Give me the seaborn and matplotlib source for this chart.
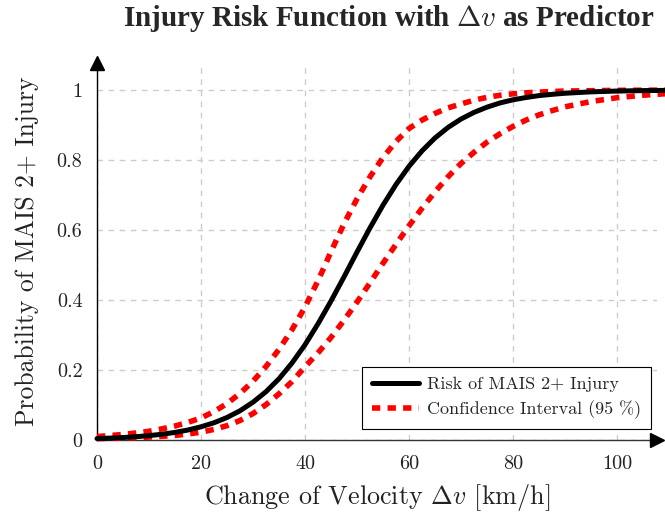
import numpy as np
import pandas as pd
import seaborn as sns
import matplotlib.pyplot as plt
from matplotlib.lines import Line2D
from matplotlib.ticker import FuncFormatter

# ---------------- data ----------------
velocity = [0, 2.5, 5, 7.5, 10, 12.5, 15, 17.5, 20, 22.5, 25, 27.5, 30, 32.5,
            35, 37.5, 40, 42.5, 45, 47.5, 50, 52.5, 55, 57.5, 60, 62.5, 65,
            67.5, 70, 72.5, 75, 77.5, 80, 82.5, 85, 87.5, 90, 95, 100, 105, 110]
risk = [0.0041, 0.0054, 0.0071, 0.0094, 0.0125, 0.0165, 0.0217, 0.0286, 0.0377,
        0.0493, 0.0643, 0.0835, 0.108, 0.138, 0.175, 0.220, 0.272, 0.332, 0.397,
        0.466, 0.537, 0.606, 0.671, 0.730, 0.782, 0.826, 0.863, 0.893, 0.917,
        0.936, 0.951, 0.963, 0.972, 0.9785, 0.984, 0.9876, 0.9907, 0.9947,
        0.9970, 0.9983, 0.9990]
ci_upper = [0.010, 0.0126, 0.016, 0.0201, 0.025, 0.0319, 0.040, 0.0504, 0.063,
            0.0812, 0.104, 0.133, 0.168, 0.210, 0.259, 0.315, 0.380, 0.455,
            0.538, 0.618, 0.689, 0.752, 0.807, 0.853, 0.890, 0.914, 0.933,
            0.949, 0.960, 0.971, 0.979, 0.985, 0.989, 0.992, 0.994, 0.9957,
            0.997, 0.998, 0.999, 0.9994, 0.9997]
ci_lower = [0.0038, 0.0046, 0.0056, 0.0068, 0.0083, 0.0104, 0.013, 0.0171,
            0.0223, 0.0303, 0.041, 0.0557, 0.0755, 0.101, 0.132, 0.167, 0.209,
            0.249, 0.293, 0.342, 0.394, 0.449, 0.505, 0.559, 0.612, 0.662,
            0.709, 0.752, 0.790, 0.822, 0.851, 0.875, 0.896, 0.914, 0.929,
            0.941, 0.952, 0.967, 0.978, 0.985, 0.990]
x_ticks = [0, 20, 40, 60, 80, 100]
y_ticks = [0, 0.2, 0.4, 0.6, 0.8, 1.0]

title = r"Injury Risk Function with $\mathbf{\Delta}v$ as Predictor"
x_label = r"Change of Velocity $\Delta v$ [km/h]"
y_label = "Probability of MAIS 2+ Injury"
legend_labels = ["Risk of MAIS 2+ Injury", "Confidence Interval (95 %)"]

df = pd.DataFrame({"v": velocity, "risk": risk, "up": ci_upper, "lo": ci_lower})

# ---------------- style ----------------
sns.set_theme(style="white")
plt.rcParams["font.family"] = ["cmr10", "DejaVu Serif"]
plt.rcParams["mathtext.fontset"] = "cm"
plt.rcParams["axes.formatter.use_mathtext"] = True
plt.rcParams["axes.unicode_minus"] = False

fig = plt.figure(figsize=(6.65, 5.16), dpi=100)
W, H = 665, 516
ax_left, ax_right, ax_bottom, ax_top = 97, 657, 440, 63
ax = fig.add_axes([ax_left / W, (H - ax_bottom) / H,
                   (ax_right - ax_left) / W, (ax_bottom - ax_top) / H])

red_dash = (0, (1.5, 1.3))
sns.lineplot(data=df, x="v", y="up", ax=ax, color="#ff0000", lw=4,
             linestyle=red_dash, dash_capstyle="butt", clip_on=False,
             estimator=None, zorder=3)
sns.lineplot(data=df, x="v", y="lo", ax=ax, color="#ff0000", lw=4,
             linestyle=red_dash, dash_capstyle="butt", clip_on=False,
             estimator=None, zorder=3)
sns.lineplot(data=df, x="v", y="risk", ax=ax, color="black", lw=3.6,
             clip_on=False, estimator=None, zorder=4)

ax.set_xlim(0, (ax_right - ax_left) / 5.2)
ax.set_ylim(0, (ax_bottom - ax_top) / 350)
ax.set_xticks(x_ticks)
ax.set_yticks(y_ticks)
ax.xaxis.set_major_formatter(FuncFormatter(lambda v, p: f"{v:g}"))
ax.yaxis.set_major_formatter(FuncFormatter(lambda v, p: f"{v:g}"))

ax.grid(True, color="#cccccc", linestyle=(0, (4, 4)), lw=1.0)
for s in ["top", "right"]:
    ax.spines[s].set_visible(False)
for s in ["left", "bottom"]:
    ax.spines[s].set_color("black")
    ax.spines[s].set_linewidth(1.0)
ax.spines["bottom"].set_color("#333333")
ax.tick_params(axis="both", direction="inout", length=11, width=0.9,
               colors="#222222", labelsize=14.5)
ax.tick_params(axis="x", pad=5)
ax.tick_params(axis="y", pad=5)

# arrow heads
ax.plot(0, 1, marker="^", color="black", markersize=10, transform=ax.transAxes,
        clip_on=False, zorder=6)
ax.plot(1, 0, marker=">", color="black", markersize=10, transform=ax.transAxes,
        clip_on=False, zorder=6)

ax.set_xlabel(x_label, fontsize=18.8, color="#222222", labelpad=7)
ax.set_ylabel(y_label, fontsize=18.5, color="#222222", labelpad=13)

fig.text(389 / W, 1 - 19 / H, title, ha="center", va="center",
         fontsize=21, fontweight="bold", family="Liberation Serif")

handles = [Line2D([], [], color="black", lw=3.6),
           Line2D([], [], color="#ff0000", lw=4, linestyle=red_dash,
                  dash_capstyle="butt")]
leg = ax.legend(handles, legend_labels, loc="lower right",
                bbox_to_anchor=((651 - ax_left) / (ax_right - ax_left),
                                (440 - 429) / (ax_bottom - ax_top)),
                borderaxespad=0,
                fontsize=13, handlelength=2.6, handletextpad=0.45,
                frameon=True, fancybox=False,
                edgecolor="black", framealpha=1, borderpad=0.55,
                labelspacing=0.45)
leg.get_frame().set_linewidth(0.8)
leg.set_zorder(10)

fig.savefig("out.png", dpi=100)
